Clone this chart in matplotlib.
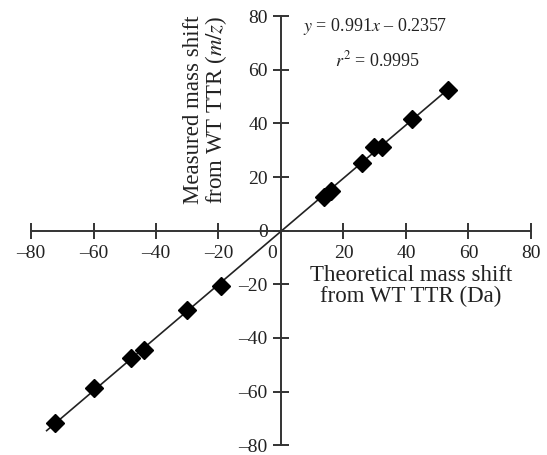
import numpy as np
import matplotlib
matplotlib.use('Agg')
import matplotlib.pyplot as plt
import matplotlib.transforms as mtransforms

plt.rcParams['font.family'] = ['Liberation Serif', 'DejaVu Serif']
plt.rcParams['mathtext.fontset'] = 'stix'

# theoretical vs measured mass shift
theoretical = [-72.2, -60.0, -48.0, -43.9, -30.0, -19.2, 13.9, 16.1, 25.9, 29.8, 32.2, 41.9, 53.3]
measured = [-71.7, -58.6, -47.5, -44.6, -29.4, -20.5, 12.4, 14.9, 25.1, 31.2, 31.2, 41.7, 52.5]
slope = 0.991
intercept = -0.2357
fit_range = [-75, 54]
ticks = [-80, -60, -40, -20, 0, 20, 40, 60, 80]

fig = plt.figure(figsize=(5.47, 4.55), dpi=100)
ax = fig.add_axes([0.0567, 0.0215, 0.914, 0.943])

xf = np.array(fit_range)
ax.plot(xf, slope * xf + intercept, color='#222222', lw=1.2, zorder=2)
ax.plot(theoretical, measured, 'D', color='black', markersize=9.5, zorder=3)

ax.set_xlim(-80, 80)
ax.set_ylim(-80, 80)
ax.spines['left'].set_position(('data', 0))
ax.spines['bottom'].set_position(('data', 0))
ax.spines['top'].set_visible(False)
ax.spines['right'].set_visible(False)
for s in ['left', 'bottom']:
    ax.spines[s].set_color('#333333')
    ax.spines[s].set_linewidth(1.4)

ax.set_xticks(ticks)
ax.set_yticks(ticks)
ax.set_xticklabels([str(t).replace('-', '\u2013') for t in ticks])
ax.set_yticklabels([str(t).replace('-', '\u2013') for t in ticks])
ax.tick_params(direction='inout', length=11, width=1.4, color='#333333',
               labelsize=14, labelcolor='#222222', pad=4)
ax.tick_params(axis='x', pad=5)

# shift the x "0" label a bit left like the original
for lab in ax.get_xticklabels():
    if lab.get_text() == '0':
        lab.set_transform(lab.get_transform() + mtransforms.ScaledTranslation(-9 / 100, 0, fig.dpi_scale_trans))

ax.text(41.5, -20.5, 'Theoretical mass shift\nfrom WT TTR (Da)', ha='center', va='center',
        fontsize=16.5, color='#222222', linespacing=1.0)
ax.text(-24, 45, 'Measured mass shift\nfrom WT TTR ($m/z$)', ha='center', va='center',
        rotation=90, fontsize=16.5, color='#222222', linespacing=1.0)

ax.text(30, 76, '$y$ = 0.991$x$ \u2013 0.2357', ha='center', va='center', fontsize=13, color='#222222')
ax.text(31, 63.5, '$r^2$ = 0.9995', ha='center', va='center', fontsize=13, color='#222222')

fig.savefig('out.png', dpi=100)
